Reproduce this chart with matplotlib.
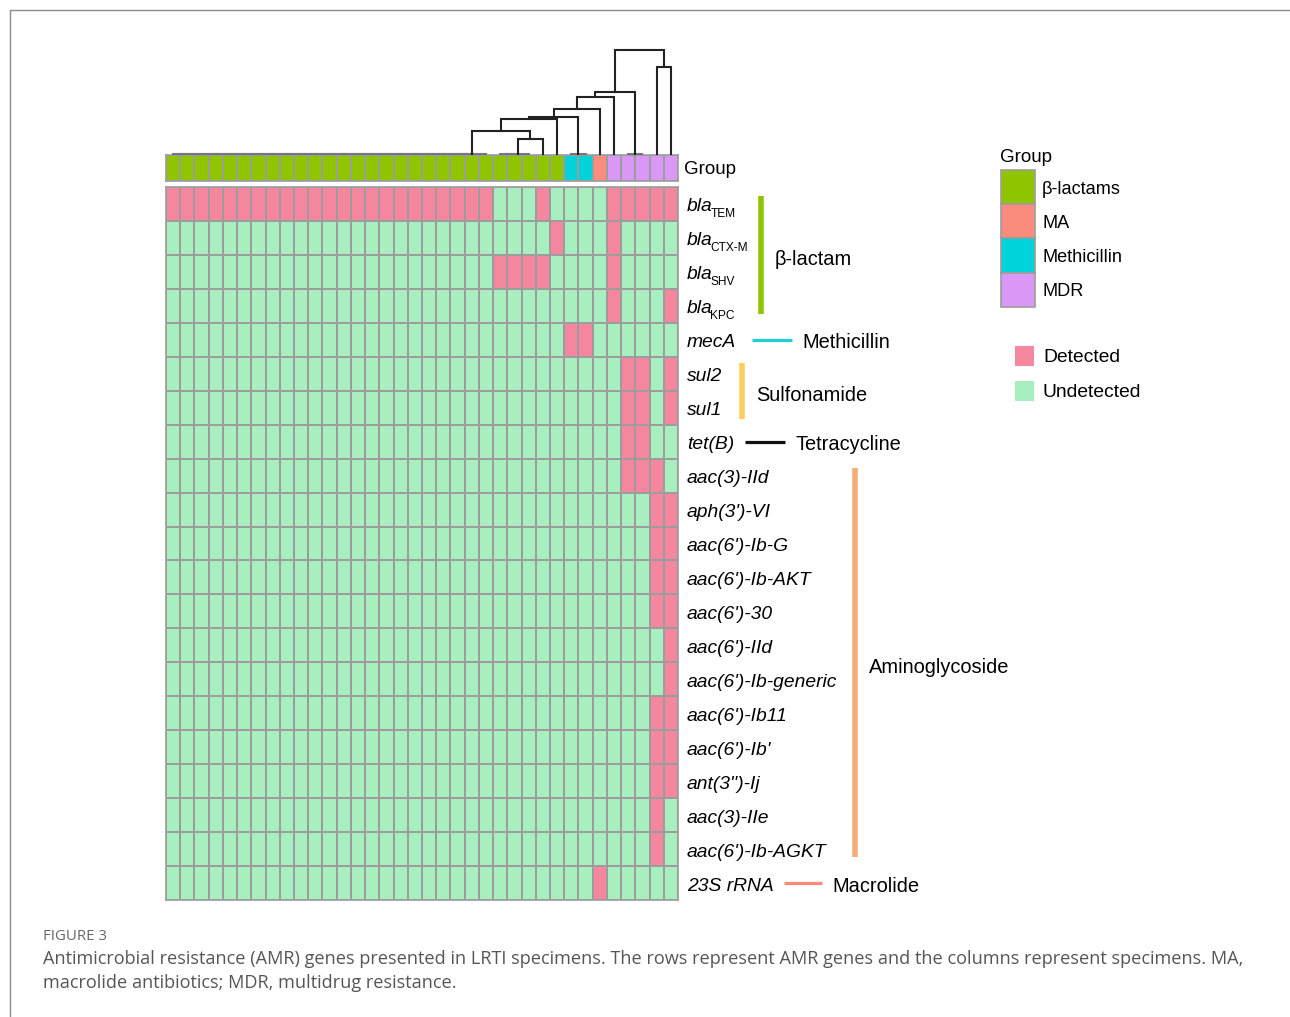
import matplotlib
matplotlib.use("Agg")
import matplotlib.pyplot as plt
from matplotlib.colors import ListedColormap
from matplotlib.patches import Rectangle
import numpy as np

plt.rcParams['font.family'] = ['Liberation Sans', 'DejaVu Sans']

# ---------------- data ----------------
# (main text, subscript) for each gene row
genes = [("bla", "TEM"), ("bla", "CTX-M"), ("bla", "SHV"), ("bla", "KPC"),
         ("mecA", ""), ("sul2", ""), ("sul1", ""), ("tet(B)", ""), ("aac(3)-IId", ""),
         ("aph(3')-VI", ""), ("aac(6')-Ib-G", ""), ("aac(6')-Ib-AKT", ""),
         ("aac(6')-30", ""), ("aac(6')-IId", ""), ("aac(6')-Ib-generic", ""),
         ("aac(6')-Ib11", ""), ("aac(6')-Ib'", ""), ("ant(3'')-Ij", ""),
         ("aac(3)-IIe", ""), ("aac(6')-Ib-AGKT", ""), ("23S rRNA", "")]

# 1 = Detected, 0 = Undetected ; 36 specimens (columns)
detection = [
    "111111111111111111111110001000011111",  # blaTEM
    "000000000000000000000000000100010000",  # blaCTX-M
    "000000000000000000000001111000010000",  # blaSHV
    "000000000000000000000000000000010001",  # blaKPC
    "000000000000000000000000000011000000",  # mecA
    "000000000000000000000000000000001101",  # sul2
    "000000000000000000000000000000001101",  # sul1
    "000000000000000000000000000000001100",  # tet(B)
    "000000000000000000000000000000001110",  # aac(3)-IId
    "000000000000000000000000000000000011",  # aph(3')-VI
    "000000000000000000000000000000000011",  # aac(6')-Ib-G
    "000000000000000000000000000000000011",  # aac(6')-Ib-AKT
    "000000000000000000000000000000000011",  # aac(6')-30
    "000000000000000000000000000000000001",  # aac(6')-IId
    "000000000000000000000000000000000001",  # aac(6')-Ib-generic
    "000000000000000000000000000000000011",  # aac(6')-Ib11
    "000000000000000000000000000000000011",  # aac(6')-Ib'
    "000000000000000000000000000000000011",  # ant(3'')-Ij
    "000000000000000000000000000000000010",  # aac(3)-IIe
    "000000000000000000000000000000000010",  # aac(6')-Ib-AGKT
    "000000000000000000000000000000100000",  # 23S rRNA
]

group_names = ["β-lactams", "MA", "Methicillin", "MDR"]
group_colors = ["#8FC400", "#FA8C7E", "#00D3DA", "#DA97F6"]
group_counts = [("β-lactams", 28), ("Methicillin", 2), ("MA", 1), ("MDR", 5)]

status_labels = ["Detected", "Undetected"]
status_colors = ["#F4879E", "#A8EFC0"]

# drug classes: (label, first row, last row, colour)
classes = [("β-lactam", 0, 3, "#8FC400"),
           ("Methicillin", 4, 4, "#1FD0DA"),
           ("Sulfonamide", 5, 6, "#F8CF5A"),
           ("Tetracycline", 7, 7, "#111111"),
           ("Aminoglycoside", 8, 19, "#F4AC78"),
           ("Macrolide", 20, 20, "#F78A78")]

# column dendrogram: nested (left, right, height); ints are leaves
def flat(leaves):
    node = leaves[0]
    for lf in leaves[1:]:
        node = (node, lf, 0)
    return node

dendro = (
    ((((((( flat(list(range(0, 23))), (flat([23, 24, 25]), 26, 15), 23),
          27, 35),
         flat([28, 29]), 37),
        30, 45),
       31, 57),
      flat([32, 33]), 62),
     (34, 35, 87), 104)
)

caption_title = "FIGURE 3"
caption_lines = ["Antimicrobial resistance (AMR) genes presented in LRTI specimens. The rows represent AMR genes and the columns represent specimens. MA,",
                 "macrolide antibiotics; MDR, multidrug resistance."]

# ---------------- layout (pixels) ----------------
W, H = 1290, 1017
hm_l, hm_r, hm_t, hm_b = 166, 678, 187, 900
gb_t, gb_b = 155, 181
dd_t = 50
edge = "#9C9C9C"

fig = plt.figure(figsize=(W / 100, H / 100), dpi=100)
fig.patch.set_facecolor("white")

def fax(l, t, r, b):
    return fig.add_axes([l / W, 1 - b / H, (r - l) / W, (b - t) / H])

mat = np.array([[1 - int(c) for c in row] for row in detection])  # 0 detected, 1 undetected
nrow, ncol = mat.shape

# heatmap
ax = fax(hm_l, hm_t, hm_r, hm_b)
ax.pcolormesh(np.arange(ncol + 1), np.arange(nrow + 1), mat,
              cmap=ListedColormap(status_colors), vmin=-0.5, vmax=1.5,
              edgecolors=edge, linewidth=1.1)
ax.set_xlim(0, ncol)
ax.set_ylim(nrow, 0)
ax.set_xticks([]); ax.set_yticks([])
for s in ax.spines.values():
    s.set_color(edge); s.set_linewidth(1.2)

# group bar
col_groups = []
for g, n in group_counts:
    col_groups += [group_names.index(g)] * n
gax = fax(hm_l, gb_t, hm_r, gb_b)
gax.pcolormesh(np.arange(ncol + 1), [0, 1], np.array([col_groups]),
               cmap=ListedColormap(group_colors), vmin=-0.5, vmax=3.5,
               edgecolors=edge, linewidth=1.1)
gax.set_xlim(0, ncol); gax.set_ylim(1, 0)
gax.set_xticks([]); gax.set_yticks([])
for s in gax.spines.values():
    s.set_color(edge); s.set_linewidth(1.2)

# dendrogram
dax = fax(hm_l, dd_t, hm_r, gb_t - 1)
dax.set_xlim(0, ncol); dax.set_ylim(0, 104)
dax.axis("off")

def draw(node):
    if isinstance(node, int):
        return node + 0.5, 0
    l, r, h = node
    xl, hl = draw(l)
    xr, hr = draw(r)
    col = "#222222" if h > 0 else "#777777"
    dax.plot([xl, xl, xr, xr], [hl, h, h, hr], color=col, lw=1.5,
             solid_joinstyle="miter", clip_on=False)
    return (xl + xr) / 2, h

draw(dendro)

# overlay axes in pixel coordinates
ov = fig.add_axes([0, 0, 1, 1], zorder=5)
ov.set_xlim(0, W); ov.set_ylim(H, 0); ov.axis("off")
ov.patch.set_alpha(0)

cell_h = (hm_b - hm_t) / nrow
dy = 3  # visual text offset
def ycen(i):
    return hm_t + (i + 0.5) * cell_h

renderer = fig.canvas.get_renderer()
ov.text(684, (gb_t + gb_b) / 2 + 1, "Group", fontsize=13.5, va="center", ha="left")
for i, (g, sub) in enumerate(genes):
    t = ov.text(687, ycen(i) + dy, g, fontsize=13.9, style="italic", va="center", ha="left")
    if sub:
        bb = t.get_window_extent(renderer=renderer)
        x_end = bb.x1
        ov.text(x_end - 2.5, ycen(i) + dy + 7, sub, fontsize=8.6, va="center", ha="left")

# class annotations
bar_x = {"β-lactam": 761, "Sulfonamide": 742, "Aminoglycoside": 855}
line_x = {"Methicillin": (752, 792), "Tetracycline": (745, 785), "Macrolide": (784, 822)}
for name, r0, r1, c in classes:
    if r0 == r1:
        x0, x1 = line_x[name]
        y = ycen(r0)
        ov.plot([x0, x1], [y, y], color=c, lw=2.3, solid_capstyle="butt")
        ov.text(x1 + 10, y + dy, name, fontsize=14.4, va="center", ha="left")
    else:
        x = bar_x[name]
        pad = 9 if r1 - r0 > 1 else 6
        y0 = hm_t + r0 * cell_h + pad
        y1 = hm_t + (r1 + 1) * cell_h - pad
        ov.plot([x, x], [y0, y1], color=c, lw=4, solid_capstyle="butt")
        ov.text(x + 14, (y0 + y1) / 2 + dy + 2, name, fontsize=14.4, va="center", ha="left")

# legends
ov.text(1000, 157, "Group", fontsize=13.5, va="center", ha="left")
for i, (g, c) in enumerate(zip(group_names, group_colors)):
    y = 170 + i * 34.2
    ov.add_patch(Rectangle((1001, y), 34, 34.2, facecolor=c, edgecolor=edge, lw=1.2))
    ov.text(1042, y + 19, g, fontsize=13.1, va="center", ha="left")
for i, (s, c) in enumerate(zip(status_labels, status_colors)):
    y = 346 + i * 35
    ov.add_patch(Rectangle((1015, y), 19, 20, facecolor=c, edgecolor="none"))
    ov.text(1043, y + 11.5, s, fontsize=13.9, va="center", ha="left")

# caption
ov.text(43, 937, caption_title, fontsize=10.8, color="#666666", va="center", ha="left",
        family=["Open Sans", "DejaVu Sans"])
for i, line in enumerate(caption_lines):
    ov.text(43, 959 + i * 24, line, fontsize=13.05, color="#555555", va="center", ha="left",
            family=["Open Sans", "DejaVu Sans"])

# frame
ov.plot([10, 10, W + 5], [H + 5, 10, 10], color="#8A8A8A", lw=1, clip_on=False)

fig.savefig("out.png", dpi=100, facecolor="white")
